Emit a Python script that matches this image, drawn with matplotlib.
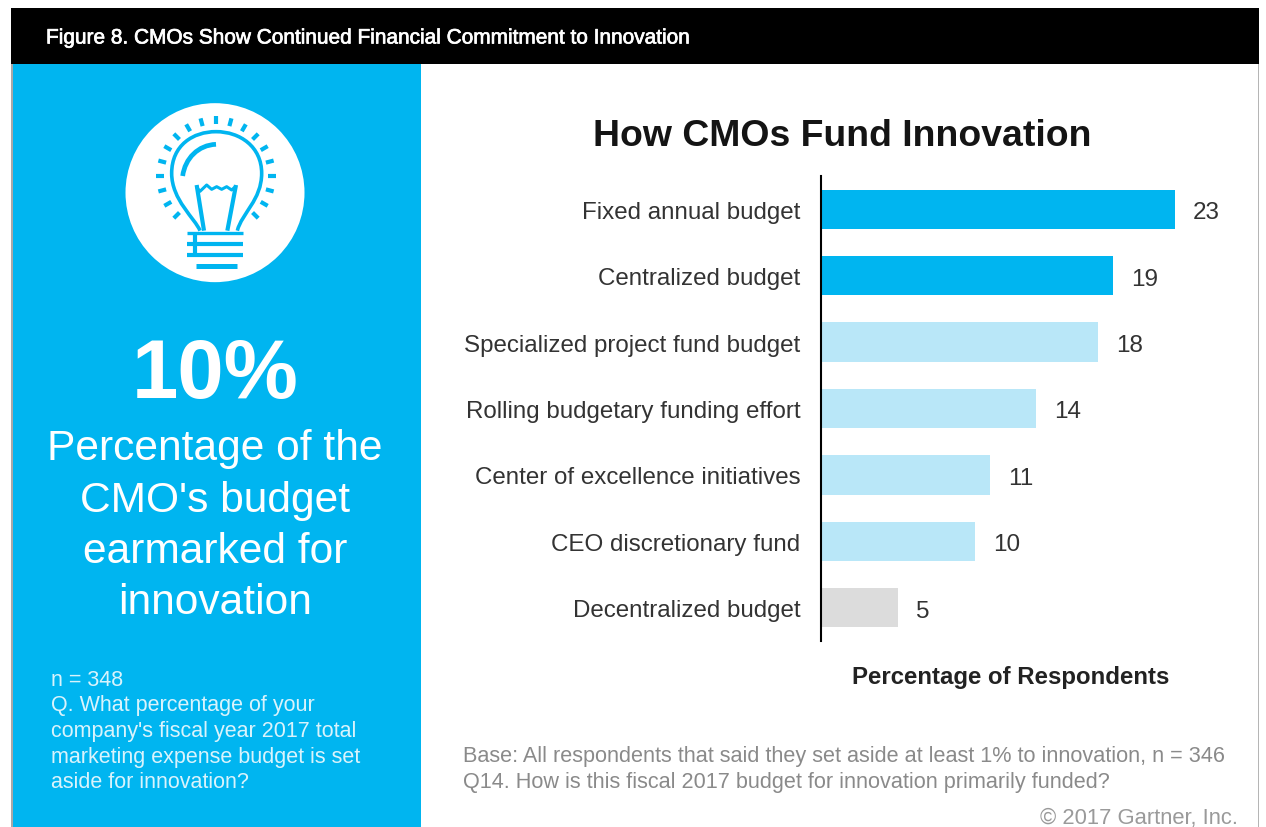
import matplotlib
matplotlib.use('Agg')
import matplotlib.patheffects as pe
import matplotlib.pyplot as plt
import numpy as np
from matplotlib.patches import Circle, PathPatch, Rectangle
from matplotlib.path import Path

W, H = 1266, 828

categories = ['Fixed annual budget', 'Centralized budget',
              'Specialized project fund budget',
              'Rolling budgetary funding effort',
              'Center of excellence initiatives',
              'CEO discretionary fund', 'Decentralized budget']
values = [23, 19, 18, 14, 11, 10, 5]
bar_colors = ['#00b5f0', '#00b5f0', '#b9e7f8', '#b9e7f8', '#b9e7f8',
              '#b9e7f8', '#dcdcdc']

BLUE = '#00b5f0'
plt.rcParams['font.family'] = ['Liberation Sans', 'DejaVu Sans']

fig = plt.figure(figsize=(W / 100, H / 100), dpi=100)

# whole figure as a pixel canvas for panels and free text
bg = fig.add_axes([0, 0, 1, 1])
bg.set_xlim(0, W)
bg.set_ylim(H - 1, -1)
bg.axis('off')


def box(x0, y0, x1, y1, color):
    bg.add_patch(Rectangle((x0, y0), x1 - x0, y1 - y0, fc=color, ec='none'))


def zp(x, y):
    return 100 + x / 3, 90 + y / 3


def stroke(pts, lw=2.0, curved=False, cap='butt'):
    pts = [zp(*p) for p in pts]
    if curved:
        codes = [Path.MOVETO] + [Path.CURVE4] * (len(pts) - 1)
    else:
        codes = [Path.MOVETO] + [Path.LINETO] * (len(pts) - 1)
    bg.add_patch(PathPatch(Path(pts, codes), fc='none', ec=BLUE, lw=lw,
                           capstyle=cap, joinstyle='round'))


box(11, 8, 1259, 64, 'black')
box(11, 64, 421, H + 1, BLUE)
box(10.5, 64, 12.5, H + 1, '#a8a8a8')
box(1257.5, 64, 1259, H + 1, '#b5b5b5')

header = bg.text(46, 38, 'Figure 8. CMOs Show Continued Financial Commitment to Innovation',
                 color='white', fontsize=15.0, va='center',
                 family=['Liberation Sans Narrow', 'Liberation Sans'])
# the original is a medium weight, thicken the regular narrow face a little
header.set_path_effects([pe.withStroke(linewidth=0.5, foreground='white')])

# light bulb icon
bg.add_patch(Circle(zp(345, 308), 89.5, fc='white', ec='none'))
for a in range(-45, 226, 15):
    r = np.radians(a)
    c, s = np.cos(r), np.sin(r)
    stroke([(348 + 155 * c, 258 - 155 * s), (348 + 179 * c, 258 - 179 * s)], lw=3.0)
# glass
stroke([(300, 422), (285, 385), (215, 330), (215, 250),
        (215, 165), (280, 125), (348, 125),
        (420, 125), (485, 170), (485, 250),
        (485, 330), (425, 370), (412, 422)], curved=True, lw=2.6)
# highlight
stroke([(248, 258), (255, 205), (295, 165), (348, 163)], curved=True, lw=3.4)
# filament
stroke([(312, 422), (290, 285)], lw=3.0)
stroke([(382, 422), (408, 285)], lw=3.0)
stroke([(290, 292), (300, 304), (320, 285), (335, 298), (350, 290), (365, 298),
        (380, 290), (395, 300), (408, 288)], lw=2.2)
# base
stroke([(262, 428), (430, 428)], lw=2.4)
stroke([(262, 462), (430, 462)], lw=3.0)
stroke([(262, 494), (430, 494)], lw=3.0)
stroke([(288, 528), (410, 528)], lw=3.6)
stroke([(285, 428), (285, 494)], lw=3.0)

# left panel text
bg.text(215, 375, '10%', color='white', fontsize=60, fontweight='bold',
        ha='center', va='center')
for y, line in zip([448.5, 500.5, 551.5, 602.5],
                   ['Percentage of the', "CMO's budget", 'earmarked for', 'innovation']):
    bg.text(215, y, line, color='white', fontsize=30.6, ha='center', va='center')
for y, line in zip([680, 705, 731, 757, 782],
                   ['n = 348', 'Q. What percentage of your',
                    "company's fiscal year 2017 total",
                    'marketing expense budget is set',
                    'aside for innovation?']):
    bg.text(51, y, line, color='#d9f3fc', fontsize=15.5, ha='left', va='center')

# right panel text
bg.text(842.5, 136, 'How CMOs Fund Innovation', color='#141414', fontsize=26.9,
        fontweight='bold', ha='center', va='center')
bg.text(1011, 677, 'Percentage of Respondents', color='#222222', fontsize=17.3,
        fontweight='bold', ha='center', va='center')
bg.text(463, 756, 'Base: All respondents that said they set aside at least 1% to innovation, n = 346',
        color='#8a8a8a', fontsize=15.6, ha='left', va='center')
bg.text(463, 782, 'Q14. How is this fiscal 2017 budget for innovation primarily funded?',
        color='#8a8a8a', fontsize=15.6, ha='left', va='center')
bg.text(1238, 818, '\u00a9 2017 Gartner, Inc.', color='#9a9a9a', fontsize=15.8,
        ha='right', va='center')

# bar chart, 15.38 px per percentage point
top, bottom, left = 177, 642, 821
ax = fig.add_axes([left / W, 1 - bottom / H, 25 * 15.38 / W, (bottom - top) / H])
ax.patch.set_alpha(0)
y = np.arange(len(categories))
ax.barh(y, values, height=0.59, color=bar_colors)
ax.set_xlim(0, 25)
ax.set_ylim(len(categories) - 0.5, -0.5)
ax.set_yticks(y, categories)
ax.tick_params(axis='y', length=0, pad=15, labelsize=17.4, labelcolor='#333333')
ax.set_xticks([])
for s in ['top', 'right', 'bottom']:
    ax.spines[s].set_visible(False)
ax.spines['left'].set_linewidth(1.5)
ax.spines['left'].set_color('black')
for i, v in zip(y, values):
    ax.annotate(str(v), (v, i), xytext=(18, -3), textcoords='offset pixels',
                va='center', fontsize=17.5, color='#333333')

fig.savefig('out.png', dpi=100)
